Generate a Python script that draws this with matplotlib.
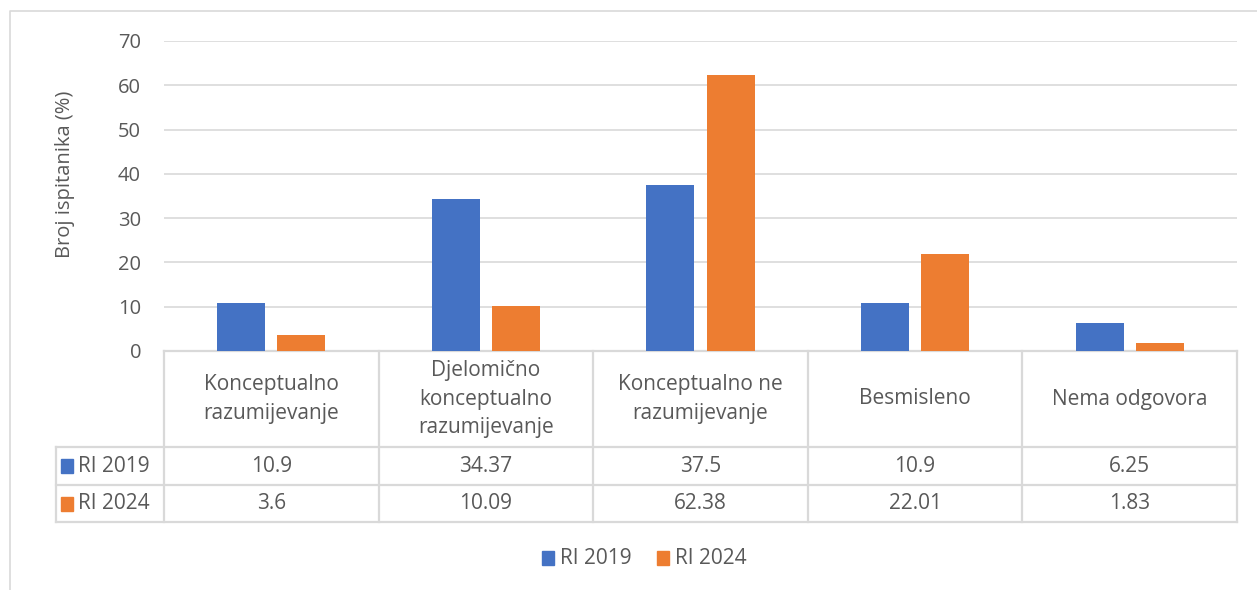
import matplotlib.pyplot as plt
from matplotlib.lines import Line2D
from matplotlib.patches import Rectangle

plt.rcParams['font.family'] = ['Open Sans', 'DejaVu Sans']

# ============================================================
# DATA
# ============================================================
categories = ['Konceptualno\nrazumijevanje',
              'Djelomično\nkonceptualno\nrazumijevanje',
              'Konceptualno ne\nrazumijevanje',
              'Besmisleno',
              'Nema odgovora']
series_names = ['RI 2019', 'RI 2024']
ri_2019 = [10.9, 34.37, 37.5, 10.9, 6.25]
ri_2024 = [3.6, 10.09, 62.38, 22.01, 1.83]
y_ticks = [0, 10, 20, 30, 40, 50, 60, 70]

blue = '#4472C4'
orange = '#ED7D31'
grid_c = '#D9D9D9'
text_c = '#595959'
fs = 15

W, H = 1257, 590
fig = plt.figure(figsize=(W / 100, H / 100), dpi=100)

# overlay in pixel coordinates for the table / frame / legend
ov = fig.add_axes([0, 0, 1, 1])
ov.set_xlim(0, W)
ov.set_ylim(H, 0)
ov.axis('off')

# plot area (pixels)
px_left, px_right, px_top, px_bottom = 164, 1237, 41, 351
ax = fig.add_axes([px_left / W, 1 - px_bottom / H,
                   (px_right - px_left) / W, (px_bottom - px_top) / H])
ax.set_facecolor('none')

n = len(categories)
x = list(range(n))
width = 0.224
off = 0.14
ax.bar([i - off for i in x], ri_2019, width, color=blue, zorder=3)
ax.bar([i + off for i in x], ri_2024, width, color=orange, zorder=3)
ax.set_xlim(-0.5, n - 0.5)
ax.set_ylim(0, 70)
ax.set_yticks(y_ticks)
ax.set_yticklabels([str(t) for t in y_ticks], fontsize=14.5, color=text_c)
ax.tick_params(axis='y', length=0, pad=16.5)
ax.set_xticks([])
ax.grid(axis='y', color=grid_c, linewidth=1.2, zorder=0)
for s in ax.spines.values():
    s.set_visible(False)

fig.text(65 / W, 1 - 174 / H, 'Broj ispitanika (%)', rotation=90,
         ha='center', va='center', fontsize=14.5, color=text_c)

# outer chart frame
ov.add_line(Line2D([10, 10, W], [H, 11, 11], color=grid_c, linewidth=1.2))

# ============================================================
# DATA TABLE
# ============================================================
col_edges = [px_left + (px_right - px_left) * k / n for k in range(n + 1)]
row_y = [351, 447, 485, 522]
lw = 1.6
ov.add_line(Line2D([px_left, px_right], [row_y[0], row_y[0]], color=grid_c, linewidth=lw))
for yy in row_y[1:]:
    ov.add_line(Line2D([56, px_right], [yy, yy], color=grid_c, linewidth=lw))
for xx in col_edges:
    ov.add_line(Line2D([xx, xx], [row_y[0], row_y[-1]], color=grid_c, linewidth=lw))
ov.add_line(Line2D([56, 56], [row_y[1], row_y[-1]], color=grid_c, linewidth=lw))

for k, cat in enumerate(categories):
    cx = (col_edges[k] + col_edges[k + 1]) / 2
    ov.text(cx, (row_y[0] + row_y[1]) / 2, cat, ha='center', va='center',
            fontsize=fs, color=text_c, linespacing=1.45)

for r, (name, vals, col) in enumerate(zip(series_names, [ri_2019, ri_2024], [blue, orange])):
    cy = (row_y[r + 1] + row_y[r + 2]) / 2
    ov.add_patch(Rectangle((61, cy - 7), 12, 14, color=col))
    ov.text(78, cy, name, ha='left', va='center', fontsize=fs, color=text_c)
    for k, v in enumerate(vals):
        cx = (col_edges[k] + col_edges[k + 1]) / 2
        ov.text(cx, cy, str(v), ha='center', va='center', fontsize=fs, color=text_c)

# ============================================================
# LEGEND
# ============================================================
for lx, name, col in [(542, series_names[0], blue), (657, series_names[1], orange)]:
    ov.add_patch(Rectangle((lx, 551), 12, 14, color=col))
    ov.text(lx + 18, 558, name, ha='left', va='center', fontsize=fs, color=text_c)

plt.savefig('out.png', dpi=100)
